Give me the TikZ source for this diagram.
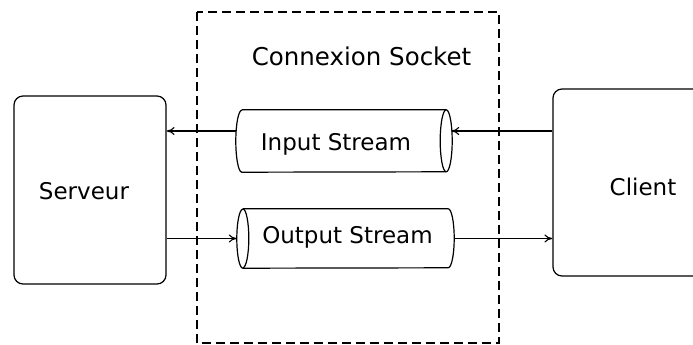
\documentclass[tikz,border=0pt]{standalone}
\usepackage{fontspec}
\setmainfont{DejaVu Sans}
\usetikzlibrary{arrows.meta,calc}
\tikzset{
  box/.style={draw,line width=1.2pt,rounded corners=9pt,inner sep=0pt},
  lbl/.style={font=\fontsize{23}{28}\selectfont,inner sep=0pt},
  streambody/.style={inner sep=0pt},
  pipe/.style={line width=1.2pt},
  link/.style={line width=1.1pt,-{To[length=8pt,width=8pt]}},
  socketframe/.style={line width=1.4pt,dash pattern=on 9pt off 5pt}
}
\begin{document}
\begin{tikzpicture}[x=1pt,y=1pt]
\useasboundingbox (0,0) rectangle (693,-345);
\fill[white] (0,0) rectangle (693,-345);

% socket frame
\draw[socketframe] (197,-12) rectangle (499,-343);
\node[lbl,font=\fontsize{24.5}{29}\selectfont] (socket) at (361.5,-56) {Connexion Socket};

% end points
\node[box,minimum width=152pt,minimum height=188pt] (serveur) at (90,-190) {};
\node[lbl] (serveurtxt) at (84,-191) {Serveur};
\node[box,minimum width=180pt,minimum height=187pt] (client) at (643,-182.5) {};
\node[lbl] (clienttxt) at (643,-186.5) {Client};

% input stream: open face on the right
\node[streambody,minimum width=216pt,minimum height=62pt] (inp) at (344,-141) {};
\node[lbl] (inptxt) at (336,-144) {Input Stream};
\draw[pipe] ($(inp.north west)+(6,0)$) -- ($(inp.north east)+(-6,0)$)
  arc[start angle=90,end angle=-90,x radius=6,y radius=31]
  -- ($(inp.south west)+(6,0)$)
  arc[start angle=270,end angle=90,x radius=6,y radius=31];
\draw[pipe] ($(inp.north east)+(-6,0)$) arc[start angle=90,end angle=270,x radius=6,y radius=31];

% output stream: open face on the left
\node[streambody,minimum width=217pt,minimum height=59pt] (outp) at (345.5,-238.5) {};
\node[lbl] (outptxt) at (347.5,-237.5) {Output Stream};
\draw[pipe] ($(outp.north west)+(6,0)$) -- ($(outp.north east)+(-6,0)$)
  arc[start angle=90,end angle=-90,x radius=6,y radius=29.5]
  -- ($(outp.south west)+(6,0)$)
  arc[start angle=270,end angle=90,x radius=6,y radius=29.5];
\draw[pipe] ($(outp.north west)+(6,0)$) arc[start angle=90,end angle=-90,x radius=6,y radius=29.5];

% data flow
\draw[link] ([yshift=10pt]client.west |- inp.east) -- ([yshift=10pt,xshift=-1pt]inp.east);
\draw[link] ([yshift=10pt]inp.west) -- ([yshift=10pt]serveur.east |- inp.west);
\draw[link] (serveur.east |- outp.west) -- (outp.west);
\draw[link] (outp.east) -- (client.west |- outp.east);
\end{tikzpicture}
\end{document}
